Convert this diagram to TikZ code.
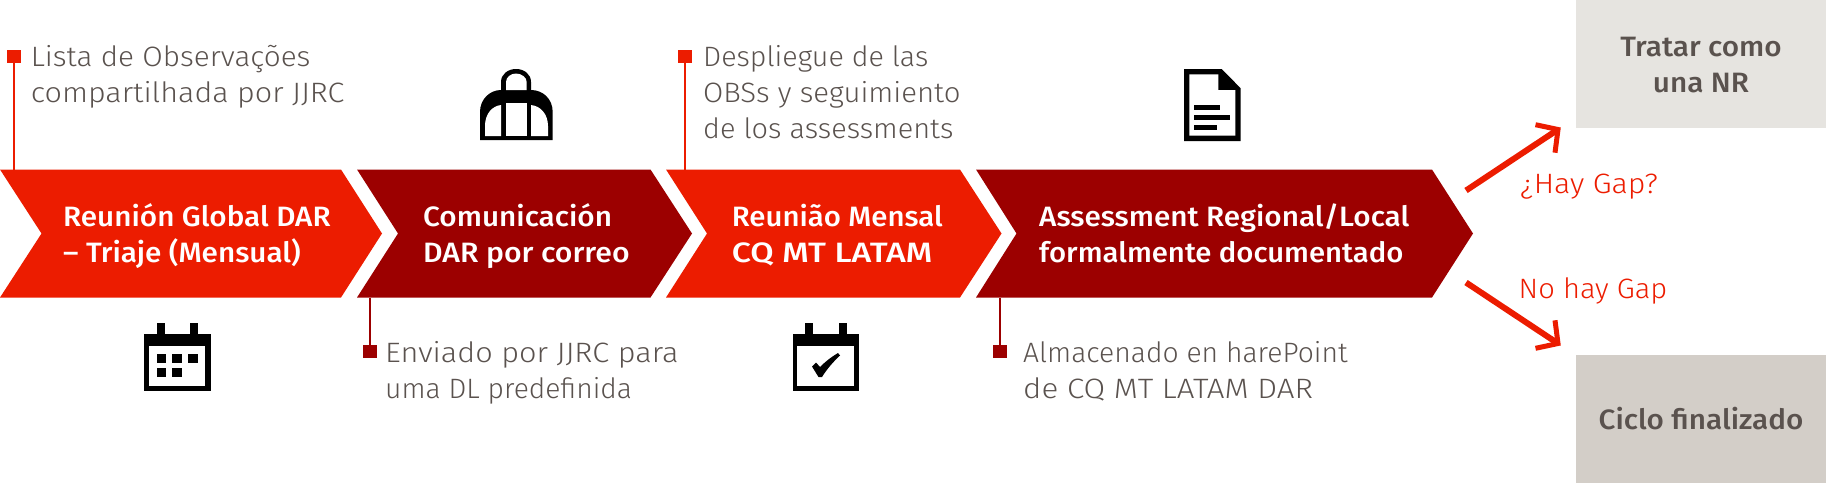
\documentclass[tikz,border=0pt]{standalone}
\usepackage{fontspec}
\usepackage{graphicx}
\setmainfont[FakeStretch=1.06]{Fira Sans Light}
\newfontfamily\medf[FakeStretch=1.06]{Fira Sans Medium}
\newcommand{\xsq}[2]{\scalebox{#1}[1]{#2}}
\definecolor{cred}{HTML}{EC1C00}
\definecolor{cdark}{HTML}{9C0000}
\definecolor{ctext}{HTML}{5A524E}
\definecolor{cbox}{HTML}{E6E4E0}
\definecolor{cboxb}{HTML}{D3CEC8}
\tikzset{
  chevtxt/.style={anchor=base west,inner sep=0pt,align=left,text=white,font=\medf\fontsize{28}{36}\selectfont},
  note/.style={anchor=base west,inner sep=0pt,align=left,text=ctext,font=\fontsize{28}{36}\selectfont},
  sq/.style={minimum width=13.5pt,minimum height=13.5pt,inner sep=0pt,outer sep=0pt},
  boxn/.style={inner sep=0pt,outer sep=0pt,align=center,text=ctext,font=\medf\fontsize{28}{36}\selectfont},
  arr/.style={cred,line width=6pt},
  arrhead/.style={cred,line width=5pt,miter limit=10},
  gap/.style={anchor=base west,inner sep=0pt,text=cred,font=\fontsize{28}{36}\selectfont},
}
\begin{document}
\begin{tikzpicture}[x=1pt,y=-1pt]
\useasboundingbox (0,0) rectangle (1826,483);
% chevrons
\fill[cred] (0,169.5) -- (341,169.5) -- (382,233.5) -- (341,297.5) -- (0,297.5) -- (41.5,233.5) -- cycle;
\fill[cdark] (357,169.5) -- (650.5,169.5) -- (692,233.5) -- (650.5,297.5) -- (357,297.5) -- (398,233.5) -- cycle;
\fill[cred] (666,169.5) -- (960,169.5) -- (1001.5,233.5) -- (960,297.5) -- (666,297.5) -- (707,233.5) -- cycle;
\fill[cdark] (976,169.5) -- (1432,169.5) -- (1473,233.5) -- (1432,297.5) -- (976,297.5) -- (1016.5,233.5) -- cycle;
\node[chevtxt] (c1a) at (63,226.7) {Reunión Global DAR};
\node[chevtxt] (c1b) at (63,262.7) {– Triaje (Mensual)};
\node[chevtxt] (c2a) at (423,226.7) {Comunicación};
\node[chevtxt] (c2b) at (423,262.7) {\xsq{1.017}{DAR por correo}};
\node[chevtxt] (c3a) at (731.7,226.7) {\xsq{0.99}{Reunião Mensal}};
\node[chevtxt] (c3b) at (731.7,262.7) {\xsq{1.14}{CQ MT LATAM}};
\node[chevtxt] (c4a) at (1039,226.7) {Assessment Regional/Local};
\node[chevtxt] (c4b) at (1039,262.7) {\xsq{0.987}{formalmente documentado}};
% leaders
\node[sq,fill=cred] (s1) at (13.8,56.5) {};
\coordinate (l1) at (13.8,169.5);
\draw[cred,line width=1.7pt] (s1.center) -- (l1);
\node[sq,fill=cdark] (s2) at (369.8,351.5) {};
\coordinate (l2) at (369.8,297.5);
\draw[cdark,line width=1.7pt] (s2.center) -- (l2);
\node[sq,fill=cred] (s3) at (685,56.5) {};
\coordinate (l3) at (685,169.5);
\draw[cred,line width=1.7pt] (s3.center) -- (l3);
\node[sq,fill=cdark] (s4) at (1000,351.5) {};
\coordinate (l4) at (1000,297.5);
\draw[cdark,line width=1.7pt] (s4.center) -- (l4);
% notes
\node[note] (n1a) at (30.6,66.7) {Lista de Observações};
\node[note] (n1b) at (30.6,102.7) {\xsq{1.027}{compartilhada por JJRC}};
\node[note] (n2a) at (385,362) {\xsq{1.033}{Enviado por JJRC para}};
\node[note] (n2b) at (385,398) {\xsq{0.95}{uma DL predefinida}};
\node[note] (n3a) at (703,66.7) {\xsq{0.965}{Despliegue de las}};
\node[note] (n3b) at (703,102.7) {\xsq{0.987}{OBSs y seguimiento}};
\node[note] (n3c) at (703,138.7) {\xsq{0.973}{de los assessments}};
\node[note] (n4a) at (1023,362) {\xsq{0.952}{Almacenado en harePoint}};
\node[note] (n4b) at (1023,398) {\xsq{1.055}{de CQ MT LATAM DAR}};
% boxes
\node[boxn,fill=cbox,minimum width=250.5pt,minimum height=127.7pt] (b1) at (1700.75,63.85) {};
\node[boxn,fill=cboxb,minimum width=250.5pt,minimum height=128.3pt] (b2) at (1700.75,418.85) {};
\node[boxn,anchor=base] (b1a) at (1701,56.7) {Tratar como};
\node[boxn,anchor=base] (b1b) at (1701,92) {una NR};
\node[boxn,anchor=base] (b2a) at (1701,429) {Ciclo finalizado};
% arrows
\coordinate (a0) at (1466,190.5);
\coordinate (a1) at (1558,129.5);
\coordinate (a1w) at (1535.5,124.7);
\coordinate (a1v) at (1555,152.7);
\coordinate (a2) at (1466,282.5);
\coordinate (a3) at (1558,343.5);
\coordinate (a3w) at (1535.5,348.3);
\coordinate (a3v) at (1555,320.3);
\draw[arr] (a0) -- (a1);
\draw[arrhead] (a1w) -- (a1) -- (a1v);
\draw[arr] (a2) -- (a3);
\draw[arrhead] (a3w) -- (a3) -- (a3v);
\node[gap] (g1) at (1520,193) {\xsq{1.025}{¿Hay Gap?}};
\node[gap] (g2) at (1518.5,298) {\xsq{0.98}{No hay Gap}};
% bag icon
\fill[black] (480,140) -- (480,112) .. controls (480,99) and (490,90) .. (501,90) -- (501,82) .. controls (501,74) and (508,69) .. (516,69) .. controls (524,69) and (531,74) .. (531,82) -- (531,90) .. controls (543,90) and (552.7,99) .. (552.7,112) -- (552.7,140) -- cycle;
\fill[white] (506,90) -- (506,82) .. controls (506,77) and (511,73.5) .. (516,73.5) .. controls (521,73.5) and (526.7,77) .. (526.7,82) -- (526.7,90) -- cycle;
\fill[white] (506,103) rectangle (526.7,136);
\fill[white] (485,136) -- (485,126) .. controls (485,114) and (492,106) .. (501,105) -- (501,136) -- cycle;
\fill[white] (548,136) -- (548,126) .. controls (548,114) and (540.5,106) .. (531,105) -- (531,136) -- cycle;
% calendar 1
\fill[black] (144,334) rectangle (210.7,390.7);
\fill[black] (156.7,323) rectangle (164.7,334);
\fill[black] (190,323) rectangle (198,334);
\fill[white] (149.3,346) rectangle (205.3,386);
\fill[black] (156.7,354) rectangle (166,363.3);
\fill[black] (172.3,354) rectangle (181.7,363.3);
\fill[black] (188.3,354) rectangle (197.7,363.3);
\fill[black] (156.7,368) rectangle (166,377.3);
\fill[black] (172.3,368) rectangle (181.7,377.3);
% calendar 2
\fill[black] (792.7,334) rectangle (859.3,390.7);
\fill[black] (805.3,323) rectangle (813.3,334);
\fill[black] (838.7,323) rectangle (846.7,334);
\fill[white] (797.3,346) rectangle (854,386);
\fill[black] (812,366.5) -- (816,362.5) -- (820,367) .. controls (826,361) and (832,356.5) .. (838,353) -- (840,355.5) .. controls (833,362) and (827,369) .. (822,377) -- (818.5,377) -- cycle;
% document
\fill[black] (1184,69) -- (1221.7,69) -- (1240.7,88.3) -- (1240.7,141) -- (1184,141) -- cycle;
\fill[white] (1189.3,74.3) -- (1218.3,74.3) -- (1218.3,90) -- (1235.3,90) -- (1235.3,135.7) -- (1189.3,135.7) -- cycle;
\fill[black] (1194.3,105) rectangle (1220,110);
\fill[black] (1194.3,115.3) rectangle (1230,120.3);
\fill[black] (1194.3,125.3) rectangle (1217.3,130.3);
\end{tikzpicture}
\end{document}
